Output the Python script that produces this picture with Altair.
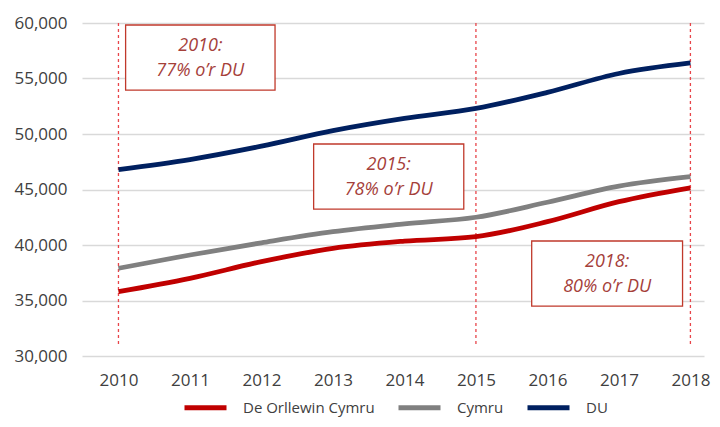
import altair as alt
import pandas as pd

years = [2010, 2011, 2012, 2013, 2014, 2015, 2016, 2017, 2018]
de_orllewin = [35800, 37000, 38500, 39700, 40350, 40750, 42100, 43900, 45150]
cymru = [37900, 39100, 40200, 41200, 41900, 42500, 43850, 45300, 46150]
du = [46800, 47700, 48900, 50300, 51400, 52300, 53750, 55450, 56400]

series_names = ["De Orllewin Cymru", "Cymru", "DU"]
series_colors = ["#c00000", "#808080", "#002060"]

marker_years = [2010, 2015, 2018]
note_line1 = ["2010:", "2015:", "2018:"]
note_line2 = ["77% o\u2019r DU", "78% o\u2019r DU", "80% o\u2019r DU"]
note_x = [2010.10, 2012.73, 2015.78]
note_x2 = [2012.19, 2014.83, 2017.89]
note_y = [59820, 49100, 40360]
note_y2 = [53960, 43240, 34500]

rows = []
for name, vals in zip(series_names, [de_orllewin, cymru, du]):
    for yr, v in zip(years, vals):
        rows.append({"year": yr, "value": v, "series": name})
df = pd.DataFrame(rows)

notes = pd.DataFrame({
    "x": note_x, "x2": note_x2, "y": note_y, "y2": note_y2,
    "xm": [(a + b) / 2 for a, b in zip(note_x, note_x2)],
    "ym": [(a + b) / 2 for a, b in zip(note_y, note_y2)],
    "t1": note_line1, "t2": note_line2,
})
markers = pd.DataFrame({"year": marker_years})

FONT = "Open Sans"
xscale = alt.Scale(domain=[2009.49, 2018.19], nice=False, zero=False)
yscale = alt.Scale(domain=[30000, 60000], nice=False, zero=False)

x_enc = alt.X("year:Q", scale=xscale, title=None,
              axis=alt.Axis(values=years, format="d", grid=False, domain=False,
                            ticks=False, labelFontSize=17, labelColor="#404040",
                            labelFont=FONT, labelPadding=16, labelFlush=False))
y_enc = alt.Y("value:Q", scale=yscale, title=None,
              axis=alt.Axis(values=[30000, 35000, 40000, 45000, 50000, 55000, 60000],
                            format=",d", grid=True, gridColor="#d9d9d9", gridWidth=1.3,
                            domain=False, ticks=False, labelFontSize=17,
                            labelColor="#404040", labelFont=FONT, labelPadding=15))

vlines = alt.Chart(markers).mark_rule(color="#e8454a", strokeDash=[3, 3], strokeWidth=1.3).encode(
    x=alt.X("year:Q", scale=xscale),
    y=alt.value(0),
    y2=alt.value(324),
)

lines = alt.Chart(df).mark_line(strokeWidth=4.8, interpolate="monotone").encode(
    x=x_enc,
    y=y_enc,
    color=alt.Color("series:N",
                    scale=alt.Scale(domain=series_names, range=series_colors),
                    sort=series_names,
                    legend=alt.Legend(title=None, orient="none", legendX=100, legendY=361,
                                      direction="horizontal", symbolType="stroke",
                                      symbolStrokeWidth=5, symbolSize=1764,
                                      labelFontSize=15, labelFont=FONT,
                                      labelColor="#404040", labelOffset=14,
                                      columnPadding=13)),
)

boxes = alt.Chart(notes).mark_rect(fill="white", stroke="#c0392b", strokeWidth=1.3).encode(
    x=alt.X("x:Q", scale=xscale), x2="x2:Q",
    y=alt.Y("y:Q", scale=yscale), y2="y2:Q",
)
txt1 = alt.Chart(notes).mark_text(fontSize=18, fontStyle="italic", font=FONT,
                                  color="#a5403a", dy=-12).encode(
    x=alt.X("xm:Q", scale=xscale), y=alt.Y("ym:Q", scale=yscale), text="t1:N")
txt2 = alt.Chart(notes).mark_text(fontSize=18, fontStyle="italic", font=FONT,
                                  color="#a5403a", dy=13).encode(
    x=alt.X("xm:Q", scale=xscale), y=alt.Y("ym:Q", scale=yscale), text="t2:N")

chart = alt.layer(vlines, lines, boxes, txt1, txt2).properties(
    width=622, height=333,
    autosize=alt.AutoSizeParams(type="none"),
    padding={"left": 74, "top": 15, "right": 8, "bottom": 63},
).configure_view(stroke=None)

chart.save("out.html", embed_options={"renderer": "svg", "actions": False})
